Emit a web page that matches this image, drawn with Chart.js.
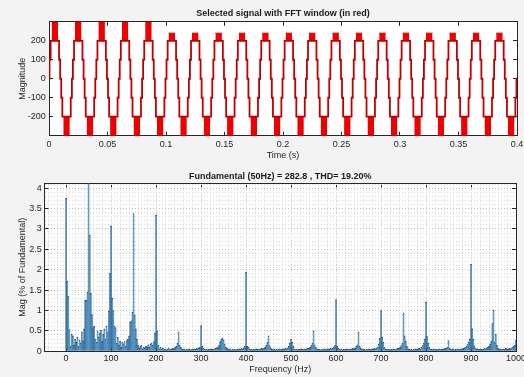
<!DOCTYPE html>
<html>
<head>
<meta charset="utf-8">
<script src="https://cdn.jsdelivr.net/npm/chart.js@4.4.1/dist/chart.umd.min.js"></script>
<style>
html, body { margin: 0; padding: 0; background: #f3f3f3; }
#wrap { position: relative; width: 524px; height: 377px; }
#sig { position: absolute; left: 0; top: 0; }
#fft { position: absolute; left: 0; top: 165px; }
</style>
</head>
<body>
<div id="wrap">
  <canvas id="sig" width="524" height="165"></canvas>
  <canvas id="fft" width="524" height="212"></canvas>
</div>
<script>
// ---- top plot: stepped signal, one 20 ms cycle
var periodMs = 20;
var cycleCount = 20;
var stairTimesMs = [0, 0.45, 1.4, 8.6, 9.55, 10.45, 11.4, 18.6, 19.55];
var stairLevels  = [0, 100, 200, 100, 0, -100, -200, -100, 0];
// fast switching patches at the crests (thick red parts)
var posBlockMs = [2.2, 7.8];
var negBlockMs = [12.2, 17.8];
var posPeak = [300, 300, 300, 300, 300, 240, 240, 240, 240, 240,
               240, 240, 240, 240, 240, 240, 240, 240, 240, 240];
var negPeak = [-300, -300, -300, -300, -300, -300, -300, -300, -300, -300,
               -300, -300, -300, -300, -300, -300, -300, -300, -300, -300];
var timeTicks = [0, 0.05, 0.1, 0.15, 0.2, 0.25, 0.3, 0.35, 0.4];
var sigTicks = [-200, -100, 0, 100, 200];

// ---- bottom plot: spectrum in % of fundamental, 2.5 Hz bins
var freqStepHz = 2.5;
var mag000 = [3.75, 1.72, 1.35, 0.53, 0.12, 0.42, 0.38, 0.15, 0.3, 0.22,
              0.35, 0.12, 0.28, 0.2, 0.48, 0.25, 0.55, 1.25, 1.25, 1.45,
              100, 2.85, 1.42, 0.9, 0.58, 0.62, 0.3, 0.22, 0.5, 0.35,
              0.45, 0.52, 0.25, 0.42, 0.55, 0.3, 0.62, 0.48, 0.98, 1.92];
var mag100 = [3.07, 1.3, 1.0, 0.62, 0.58, 0.2, 0.35, 0.15, 0.25, 0.1,
              0.22, 0.18, 0.24, 0.12, 0.26, 0.3, 0.38, 0.72, 0.75, 0.96,
              3.38, 0.88, 0.55, 0.3, 0.15, 0.08, 0.12, 0.15, 0.06, 0.1,
              0.08, 0.12, 0.1, 0.16, 0.1, 0.18, 0.2, 0.15, 0.24, 0.45];
var mag200 = [3.34, 0.5, 0.15, 0.06, 0.1, 0.05, 0.08, 0.04, 0.06, 0.03,
              0.05, 0.08, 0.04, 0.06, 0.05, 0.07, 0.06, 0.1, 0.12, 0.2,
              0.48, 0.15, 0.1, 0.06, 0.04, 0.06, 0.03, 0.05, 0.04, 0.06,
              0.05, 0.03, 0.05, 0.04, 0.06, 0.05, 0.07, 0.06, 0.08, 0.1];
var mag300 = [0.63, 0.12, 0.08, 0.05, 0.04, 0.06, 0.03, 0.05, 0.04, 0.06,
              0.05, 0.04, 0.06, 0.07, 0.08, 0.1, 0.15, 0.24, 0.3, 0.33,
              0.28, 0.18, 0.1, 0.07, 0.05, 0.04, 0.06, 0.03, 0.05, 0.04,
              0.05, 0.03, 0.05, 0.04, 0.06, 0.05, 0.07, 0.06, 0.08, 0.12];
var mag400 = [1.94, 0.12, 0.1, 0.06, 0.04, 0.05, 0.03, 0.05, 0.04, 0.06,
              0.05, 0.04, 0.06, 0.05, 0.07, 0.06, 0.08, 0.1, 0.15, 0.22,
              0.38, 0.14, 0.08, 0.05, 0.04, 0.06, 0.03, 0.05, 0.04, 0.05,
              0.06, 0.04, 0.05, 0.06, 0.05, 0.07, 0.06, 0.08, 0.12, 0.2];
var mag500 = [0.3, 0.22, 0.12, 0.06, 0.04, 0.05, 0.03, 0.05, 0.04, 0.06,
              0.05, 0.04, 0.06, 0.05, 0.06, 0.07, 0.08, 0.1, 0.14, 0.2,
              0.5, 0.16, 0.1, 0.06, 0.04, 0.05, 0.03, 0.05, 0.04, 0.06,
              0.05, 0.04, 0.05, 0.06, 0.05, 0.07, 0.06, 0.08, 0.1, 0.14];
var mag600 = [1.27, 0.12, 0.07, 0.05, 0.04, 0.06, 0.03, 0.05, 0.04, 0.05,
              0.06, 0.04, 0.05, 0.06, 0.05, 0.07, 0.06, 0.08, 0.12, 0.16,
              0.48, 0.12, 0.07, 0.05, 0.04, 0.05, 0.03, 0.05, 0.04, 0.06,
              0.05, 0.04, 0.06, 0.05, 0.07, 0.06, 0.08, 0.1, 0.18, 0.32];
var mag700 = [1.0, 0.35, 0.22, 0.1, 0.06, 0.05, 0.04, 0.05, 0.03, 0.05,
              0.04, 0.06, 0.05, 0.04, 0.06, 0.07, 0.08, 0.1, 0.14, 0.2,
              0.94, 0.38, 0.25, 0.12, 0.06, 0.05, 0.04, 0.05, 0.03, 0.05,
              0.04, 0.06, 0.05, 0.06, 0.07, 0.06, 0.1, 0.14, 0.2, 0.3];
var mag800 = [1.21, 0.36, 0.2, 0.1, 0.06, 0.05, 0.04, 0.06, 0.03, 0.05,
              0.04, 0.05, 0.06, 0.04, 0.05, 0.06, 0.05, 0.07, 0.08, 0.1,
              0.26, 0.08, 0.05, 0.04, 0.06, 0.03, 0.05, 0.04, 0.06, 0.05,
              0.04, 0.06, 0.05, 0.07, 0.08, 0.1, 0.12, 0.18, 0.22, 0.3];
var mag900 = [2.14, 0.55, 0.3, 0.14, 0.08, 0.05, 0.06, 0.04, 0.05, 0.06,
              0.04, 0.05, 0.07, 0.06, 0.08, 0.1, 0.12, 0.18, 0.25, 0.68,
              1.01, 0.22, 0.42, 0.15, 0.08, 0.05, 0.06, 0.04, 0.05, 0.06,
              0.05, 0.07, 0.06, 0.05, 0.07, 0.06, 0.08, 0.1, 0.12, 0.15];
var mag1000 = [0.28];
var freqTicks = [0, 100, 200, 300, 400, 500, 600, 700, 800, 900, 1000];
var pctTicks = [0, 0.5, 1, 1.5, 2, 2.5, 3, 3.5, 4];

Chart.defaults.font.family = '"Liberation Sans", Arial, sans-serif';
Chart.defaults.font.size = 9;
Chart.defaults.color = '#262626';

var axesBg = {
    id: 'axesBg',
    beforeDraw: function(chart) {
        var a = chart.chartArea, ctx = chart.ctx;
        ctx.save();
        ctx.fillStyle = '#ffffff';
        ctx.fillRect(a.left, a.top, a.right - a.left, a.bottom - a.top);
        ctx.restore();
    }
};

function fixSize(w, h) {
    return function(s) {
        if (w !== null) s.width = w;
        if (h !== null) s.height = h;
        s.paddingLeft = 0; s.paddingRight = 0;
        s.paddingTop = 0; s.paddingBottom = 0;
    };
}
function setTicks(list) {
    return function(s) { s.ticks = list.map(function(v) { return {value: v}; }); };
}
function label(v) { return String(v); }

// ---- build the top plot points
var signalPts = [], posPts = [], negPts = [];
for (var c = 0; c < cycleCount; c++) {
    var t0 = c * periodMs;
    for (var k = 0; k < stairTimesMs.length; k++) {
        signalPts.push({x: (t0 + stairTimesMs[k]) / 1000, y: stairLevels[k]});
    }
    posPts.push({x: (t0 + posBlockMs[0]) / 1000, y: posPeak[c]});
    posPts.push({x: (t0 + posBlockMs[1]) / 1000, y: posPeak[c]});
    posPts.push({x: (t0 + 10) / 1000, y: null});
    negPts.push({x: (t0 + negBlockMs[0]) / 1000, y: negPeak[c]});
    negPts.push({x: (t0 + negBlockMs[1]) / 1000, y: negPeak[c]});
    negPts.push({x: (t0 + 19) / 1000, y: null});
}
signalPts.push({x: cycleCount * periodMs / 1000, y: 0});

var boxColor = '#262626';

new Chart(document.getElementById('sig'), {
    type: 'line',
    data: {
        datasets: [
            {
                label: 'signal',
                data: signalPts,
                stepped: true,
                borderColor: '#bf0000',
                borderWidth: 1.8,
                pointRadius: 0,
                fill: false
            },
            {
                label: 'crest +',
                data: posPts,
                borderColor: '#e00000',
                backgroundColor: '#ee0000',
                borderWidth: 1,
                pointRadius: 0,
                fill: {value: 200}
            },
            {
                label: 'crest -',
                data: negPts,
                borderColor: '#e00000',
                backgroundColor: '#ee0000',
                borderWidth: 1,
                pointRadius: 0,
                fill: {value: -200}
            }
        ]
    },
    options: {
        responsive: false,
        animation: false,
        events: [],
        layout: {padding: 0},
        plugins: {
            legend: {display: false},
            tooltip: {enabled: false},
            title: {
                display: true,
                fullSize: false,
                text: 'Selected signal with FFT window (in red)',
                color: '#1a1a1a',
                font: {size: 9, weight: 'bold'},
                padding: {top: 8, bottom: 3}
            }
        },
        scales: {
            x: {
                type: 'linear', position: 'bottom', min: 0, max: 0.4,
                afterBuildTicks: setTicks(timeTicks),
                afterFit: fixSize(null, 29.3),
                ticks: {autoSkip: false, maxRotation: 0, padding: 7.2, callback: label},
                grid: {drawOnChartArea: false, tickLength: -4, tickColor: boxColor},
                border: {color: boxColor},
                title: {display: true, text: 'Time (s)', padding: {top: 0, bottom: 4}}
            },
            xTop: {
                type: 'linear', position: 'top', min: 0, max: 0.4,
                afterBuildTicks: setTicks(timeTicks),
                afterFit: fixSize(null, 0),
                ticks: {display: false},
                grid: {drawOnChartArea: false, tickLength: -4, tickColor: boxColor},
                border: {color: boxColor}
            },
            y: {
                type: 'linear', position: 'left', min: -300, max: 300,
                afterBuildTicks: setTicks(sigTicks),
                afterFit: fixSize(49, null),
                ticks: {padding: 7.3, callback: label},
                grid: {drawOnChartArea: false, tickLength: -4, tickColor: boxColor},
                border: {color: boxColor},
                title: {display: true, text: 'Magnitude', padding: {top: 17.3, bottom: 0}}
            },
            yRight: {
                type: 'linear', position: 'right', min: -300, max: 300,
                afterBuildTicks: setTicks(sigTicks),
                afterFit: fixSize(7, null),
                ticks: {display: false},
                grid: {drawOnChartArea: false, tickLength: -4, tickColor: boxColor},
                border: {color: boxColor}
            }
        }
    },
    plugins: [axesBg]
});

// ---- bottom plot
var magPct = [].concat(mag000, mag100, mag200, mag300, mag400,
                       mag500, mag600, mag700, mag800, mag900, mag1000);
var fftPts = magPct.map(function(m, i) { return {x: i * freqStepHz, y: m}; });

var minorHz = [];
for (var f = -40; f <= 1000; f += 20) if (f % 100 !== 0) minorHz.push(f);
var minorPct = [];
for (var q = 1; q <= 41; q++) if (q % 5 !== 0) minorPct.push(q / 10);

new Chart(document.getElementById('fft'), {
    type: 'bar',
    data: {
        datasets: [{
            label: 'Mag',
            data: fftPts,
            backgroundColor: '#2f8ad0',
            borderColor: '#1d4868',
            borderWidth: 0.7,
            borderSkipped: 'start',
            barPercentage: 1,
            categoryPercentage: 1
        }]
    },
    options: {
        responsive: false,
        animation: false,
        events: [],
        layout: {padding: 0},
        plugins: {
            legend: {display: false},
            tooltip: {enabled: false},
            title: {
                display: true,
                fullSize: false,
                text: 'Fundamental (50Hz) = 282.8 , THD= 19.20%',
                color: '#1a1a1a',
                font: {size: 9, weight: 'bold'},
                padding: {top: 6.3, bottom: 1.2}
            }
        },
        scales: {
            x: {
                type: 'linear', position: 'bottom', min: -48, max: 1000, offset: false,
                afterBuildTicks: setTicks(freqTicks),
                afterFit: fixSize(null, 25.7),
                ticks: {autoSkip: false, maxRotation: 0, padding: 6.3, callback: label},
                grid: {offset: false, color: '#bdbdbd', tickLength: -4, tickColor: boxColor},
                border: {color: boxColor, dash: [1, 2]},
                title: {display: true, text: 'Frequency (Hz)', padding: {top: 0, bottom: 1.6}}
            },
            xMinor: {
                type: 'linear', position: 'bottom', min: -48, max: 1000, offset: false,
                afterBuildTicks: setTicks(minorHz),
                afterFit: fixSize(null, 0),
                ticks: {display: false},
                grid: {offset: false, color: '#d6d6d6', drawTicks: false},
                border: {display: false, dash: [1, 2]}
            },
            xTop: {
                type: 'linear', position: 'top', min: -48, max: 1000, offset: false,
                afterBuildTicks: setTicks(freqTicks),
                afterFit: fixSize(null, 0),
                ticks: {display: false},
                grid: {offset: false, drawOnChartArea: false, tickLength: -4, tickColor: boxColor},
                border: {color: boxColor}
            },
            y: {
                type: 'linear', position: 'left', min: 0, max: 4.12,
                afterBuildTicks: setTicks(pctTicks),
                afterFit: fixSize(44.5, null),
                ticks: {padding: 6.8, callback: label},
                grid: {color: '#bdbdbd', tickLength: -4, tickColor: boxColor},
                border: {color: boxColor, dash: [1, 2]},
                title: {display: true, text: 'Mag (% of Fundamental)', padding: {top: 17.3, bottom: 0}}
            },
            yMinor: {
                type: 'linear', position: 'left', min: 0, max: 4.12,
                afterBuildTicks: setTicks(minorPct),
                afterFit: fixSize(0, null),
                ticks: {display: false},
                grid: {color: '#d6d6d6', drawTicks: false},
                border: {display: false, dash: [1, 2]}
            },
            yRight: {
                type: 'linear', position: 'right', min: 0, max: 4.12,
                afterBuildTicks: setTicks(pctTicks),
                afterFit: fixSize(8, null),
                ticks: {display: false},
                grid: {drawOnChartArea: false, tickLength: -4, tickColor: boxColor},
                border: {color: boxColor}
            }
        }
    },
    plugins: [axesBg]
});
</script>
</body>
</html>
